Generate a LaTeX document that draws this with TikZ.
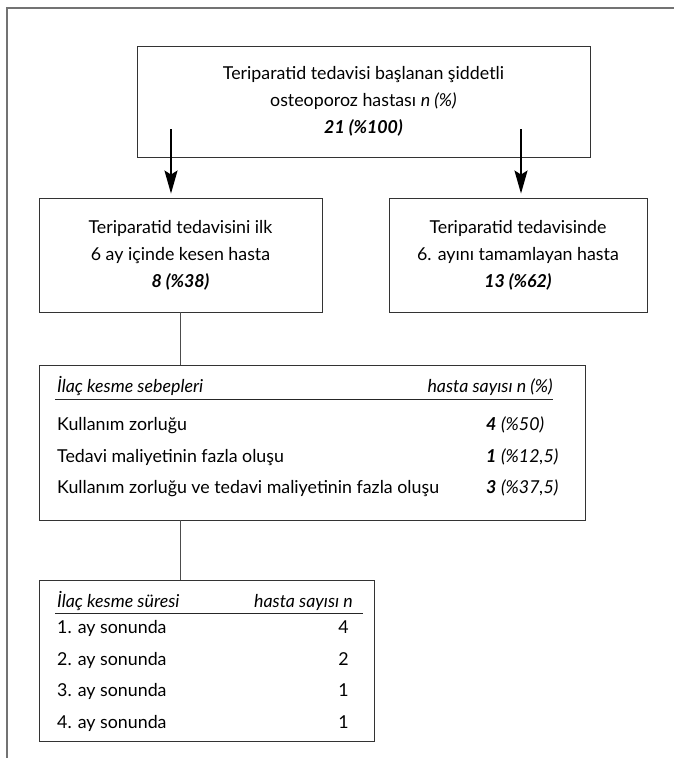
\documentclass[tikz,border=0pt]{standalone}
\usepackage{fontspec}
\setmainfont{Lato}
\usetikzlibrary{arrows.meta}

\newcommand{\boxfont}{\fontsize{17.8}{27}\selectfont}

\tikzstyle{plain_box} = [rectangle, draw=black!80, line width=0.9pt, inner sep=0pt, align=center, font=\boxfont, text=black]
\tikzstyle{arrow} = [line width=1.9pt, black, -{Stealth[length=23pt, width=13pt, inset=4pt]}, shorten >=4pt]
\tikzstyle{link} = [draw=black!70, line width=0.9pt]
\tikzstyle{frame_line} = [draw=black!55, line width=1.4pt]
\tikzstyle{row_text} = [inner sep=0pt, font=\boxfont, text=black]

\begin{document}
\begin{tikzpicture}[x=1pt, y=-1pt]
        \useasboundingbox (0,0) rectangle (674,758);
        \draw [frame_line] (674,8) -- (7,8) -- (7,758);

        \node (start) [plain_box, minimum width=453pt, minimum height=111pt] at (363.5,101.5) {Teriparatid tedavisi başlanan şiddetli\\osteoporoz hastası \textit{n (\%)}\\\textbf{\textit{21 (\%100)}}};
        \node (discontinued) [plain_box, minimum width=283pt, minimum height=114pt] at (180.5,255) {Teriparatid tedavisini ilk\\6 ay içinde kesen hasta\\\textbf{\textit{8 (\%38)}}};
        \node (completed) [plain_box, minimum width=258pt, minimum height=114pt] at (518,255) {Teriparatid tedavisinde\\6. ayını tamamlayan hasta\\\textbf{\textit{13 (\%62)}}};
        \node (reasons) [plain_box, minimum width=546pt, minimum height=155pt] at (312,442.5) {};
        \node (duration) [plain_box, minimum width=335pt, minimum height=161pt] at (206.5,661) {};

        % reasons table
        \node (reasons_head) [row_text, anchor=base west] at (57,392) {\textit{İlaç kesme sebepleri}};
        \node (reasons_count) [row_text, anchor=base east] at (553,392) {\textit{hasta sayısı n (\%)}};
        \draw [draw=black!85, line width=0.8pt] (55,399) -- (553,399);
        \node (reason_1) [row_text, anchor=base west] at (57,430) {Kullanım zorluğu};
        \node (reason_2) [row_text, anchor=base west] at (57,462) {Tedavi maliyetinin fazla oluşu};
        \node (reason_3) [row_text, anchor=base west] at (57,493) {Kullanım zorluğu ve tedavi maliyetinin fazla oluşu};
        \node (count_1) [row_text, anchor=base west] at (486,430) {\textbf{\textit{4}} \textit{(\%50)}};
        \node (count_2) [row_text, anchor=base west] at (486,462) {\textbf{\textit{1}} \textit{(\%12,5)}};
        \node (count_3) [row_text, anchor=base west] at (486,493) {\textbf{\textit{3}} \textit{(\%37,5)}};

        % duration table
        \node (duration_head) [row_text, anchor=base west] at (57,607) {\textit{İlaç kesme süresi}};
        \node (duration_count) [row_text, anchor=base east] at (353,607) {\textit{hasta sayısı n}};
        \draw [draw=black!85, line width=0.8pt] (55,613) -- (363,613);
        \node (month_1) [row_text, anchor=base west] at (57,633) {1. ay sonunda};
        \node (month_2) [row_text, anchor=base west] at (57,665) {2. ay sonunda};
        \node (month_3) [row_text, anchor=base west] at (57,696) {3. ay sonunda};
        \node (month_4) [row_text, anchor=base west] at (57,728) {4. ay sonunda};
        \node (stop_1) [row_text, anchor=base east] at (349,633) {4};
        \node (stop_2) [row_text, anchor=base east] at (349,665) {2};
        \node (stop_3) [row_text, anchor=base east] at (349,696) {1};
        \node (stop_4) [row_text, anchor=base east] at (349,728) {1};

        \coordinate (split_left) at (171,129);
        \coordinate (split_right) at (521,129);
        \draw [arrow] (split_left) -- (split_left |- discontinued.north);
        \draw [arrow] (split_right) -- (split_right |- completed.north);
        \draw [link] (discontinued.south) -- (discontinued.south |- reasons.north);
        \draw [link] (discontinued.south |- reasons.south) -- (discontinued.south |- duration.north);
    \end{tikzpicture}
\end{document}
